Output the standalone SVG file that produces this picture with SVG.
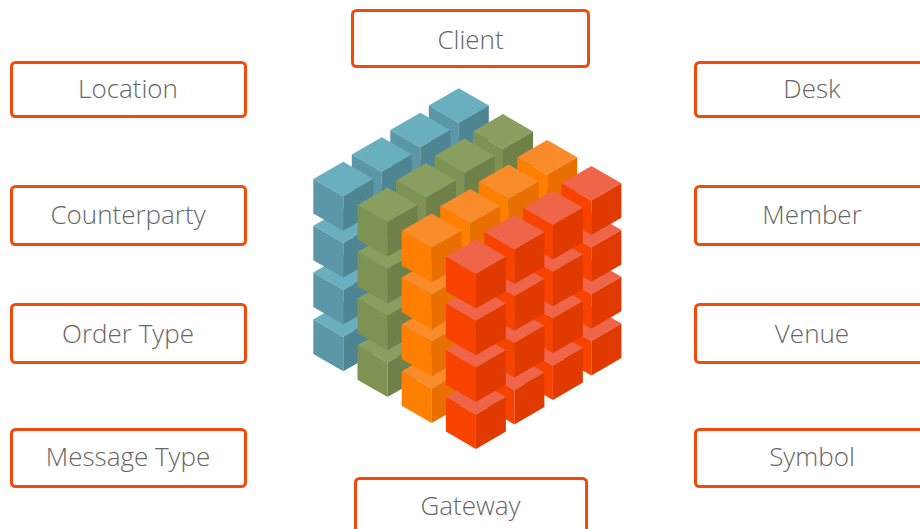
<svg xmlns="http://www.w3.org/2000/svg" xmlns:xlink="http://www.w3.org/1999/xlink" width="920" height="529" viewBox="0 0 920 529">
<style>
.box{fill:#ffffff;stroke:#F4490B;stroke-width:3}
.lbl{font-family:"Open Sans","Liberation Sans",sans-serif;font-weight:300;font-size:26px;fill:#666666;text-anchor:middle}
</style>
<defs>
<g id="cB">
<polygon points="0,0 30,17.3 0,34.6 -30,17.3" fill="#6AAFBE"/>
<polygon points="-30,17.3 0,34.6 0,69.1 -30,51.8" fill="#5C97A8"/>
<polygon points="0,34.6 30,17.3 30,51.8 0,69.1" fill="#4E8593"/>
</g>
<g id="cG">
<polygon points="0,0 30,17.3 0,34.6 -30,17.3" fill="#8A9E5F"/>
<polygon points="-30,17.3 0,34.6 0,69.1 -30,51.8" fill="#7E9254"/>
<polygon points="0,34.6 30,17.3 30,51.8 0,69.1" fill="#6F8148"/>
</g>
<g id="cO">
<polygon points="0,0 30,17.3 0,34.6 -30,17.3" fill="#F98B2B"/>
<polygon points="-30,17.3 0,34.6 0,69.1 -30,51.8" fill="#FF8000"/>
<polygon points="0,34.6 30,17.3 30,51.8 0,69.1" fill="#E86F00"/>
</g>
<g id="cR">
<polygon points="0,0 30,17.3 0,34.6 -30,17.3" fill="#EF654A"/>
<polygon points="-30,17.3 0,34.6 0,69.1 -30,51.8" fill="#F74200"/>
<polygon points="0,34.6 30,17.3 30,51.8 0,69.1" fill="#E03A00"/>
</g>
</defs>
<rect width="920" height="529" fill="#ffffff"/>
<g id="cube">
<g id="slice-blue">
<use href="#cB" x="458.8" y="228.6"/><use href="#cB" x="458.8" y="181.8"/><use href="#cB" x="458.8" y="135"/><use href="#cB" x="458.8" y="88.2"/>
<use href="#cB" x="420.3" y="253.1"/><use href="#cB" x="420.3" y="206.3"/><use href="#cB" x="420.3" y="159.5"/><use href="#cB" x="420.3" y="112.7"/>
<use href="#cB" x="381.8" y="277.6"/><use href="#cB" x="381.8" y="230.8"/><use href="#cB" x="381.8" y="184"/><use href="#cB" x="381.8" y="137.2"/>
<use href="#cB" x="343.3" y="302.1"/><use href="#cB" x="343.3" y="255.3"/><use href="#cB" x="343.3" y="208.5"/><use href="#cB" x="343.3" y="161.7"/>
</g>
<g id="slice-green">
<use href="#cG" x="503" y="254.5"/><use href="#cG" x="503" y="207.7"/><use href="#cG" x="503" y="160.9"/><use href="#cG" x="503" y="114.1"/>
<use href="#cG" x="464.5" y="279"/><use href="#cG" x="464.5" y="232.2"/><use href="#cG" x="464.5" y="185.4"/><use href="#cG" x="464.5" y="138.6"/>
<use href="#cG" x="426" y="303.5"/><use href="#cG" x="426" y="256.7"/><use href="#cG" x="426" y="209.9"/><use href="#cG" x="426" y="163.1"/>
<use href="#cG" x="387.5" y="328"/><use href="#cG" x="387.5" y="281.2"/><use href="#cG" x="387.5" y="234.4"/><use href="#cG" x="387.5" y="187.6"/>
</g>
<g id="slice-orange">
<use href="#cO" x="547.2" y="280.4"/><use href="#cO" x="547.2" y="233.6"/><use href="#cO" x="547.2" y="186.8"/><use href="#cO" x="547.2" y="140"/>
<use href="#cO" x="508.7" y="304.9"/><use href="#cO" x="508.7" y="258.1"/><use href="#cO" x="508.7" y="211.3"/><use href="#cO" x="508.7" y="164.5"/>
<use href="#cO" x="470.2" y="329.4"/><use href="#cO" x="470.2" y="282.6"/><use href="#cO" x="470.2" y="235.8"/><use href="#cO" x="470.2" y="189"/>
<use href="#cO" x="431.7" y="353.9"/><use href="#cO" x="431.7" y="307.1"/><use href="#cO" x="431.7" y="260.3"/><use href="#cO" x="431.7" y="213.5"/>
</g>
<g id="slice-red">
<use href="#cR" x="591.4" y="306.3"/><use href="#cR" x="591.4" y="259.5"/><use href="#cR" x="591.4" y="212.7"/><use href="#cR" x="591.4" y="165.9"/>
<use href="#cR" x="552.9" y="330.8"/><use href="#cR" x="552.9" y="284"/><use href="#cR" x="552.9" y="237.2"/><use href="#cR" x="552.9" y="190.4"/>
<use href="#cR" x="514.4" y="355.3"/><use href="#cR" x="514.4" y="308.5"/><use href="#cR" x="514.4" y="261.7"/><use href="#cR" x="514.4" y="214.9"/>
<use href="#cR" x="475.9" y="379.8"/><use href="#cR" x="475.9" y="333"/><use href="#cR" x="475.9" y="286.2"/><use href="#cR" x="475.9" y="239.4"/>
</g>
</g>
<g id="connectors"></g>
<g id="node-client"><rect class="box" x="352.5" y="10.5" width="236" height="56" rx="4"/><text class="lbl" x="470.5" y="48.5">Client</text></g>
<g id="node-location"><rect class="box" x="11.5" y="62.5" width="234" height="54" rx="4"/><text class="lbl" x="128" y="98">Location</text></g>
<g id="node-counterparty"><rect class="box" x="11.5" y="186.5" width="234" height="58" rx="4"/><text class="lbl" x="128" y="224">Counterparty</text></g>
<g id="node-ordertype"><rect class="box" x="11.5" y="304.5" width="234" height="58" rx="4"/><text class="lbl" x="128" y="343">Order Type</text></g>
<g id="node-messagetype"><rect class="box" x="11.5" y="429.5" width="234" height="57" rx="4"/><text class="lbl" x="128" y="466">Message Type</text></g>
<g id="node-desk"><rect class="box" x="695.5" y="62.5" width="234" height="54" rx="4"/><text class="lbl" x="812" y="98">Desk</text></g>
<g id="node-member"><rect class="box" x="695.5" y="186.5" width="234" height="58" rx="4"/><text class="lbl" x="812" y="224">Member</text></g>
<g id="node-venue"><rect class="box" x="695.5" y="304.5" width="234" height="58" rx="4"/><text class="lbl" x="812" y="343">Venue</text></g>
<g id="node-symbol"><rect class="box" x="695.5" y="429.5" width="234" height="57" rx="4"/><text class="lbl" x="812" y="466">Symbol</text></g>
<g id="node-gateway"><rect class="box" x="355.5" y="478.5" width="231" height="60" rx="4"/><text class="lbl" x="470.5" y="515">Gateway</text></g>
</svg>
